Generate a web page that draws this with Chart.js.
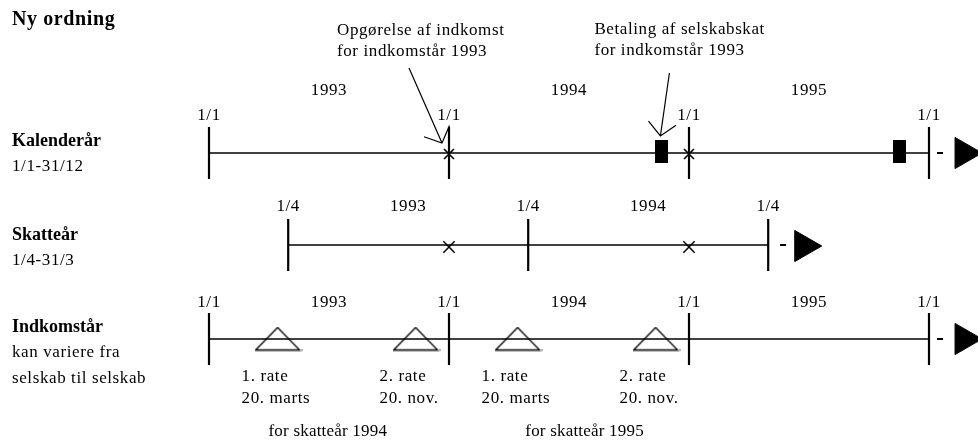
<!DOCTYPE html>
<html lang="da">
<head>
<meta charset="UTF-8">
<title>Ny ordning</title>
<style>
  body { margin: 0; background: #fff; }
  #wrap { width: 978px; height: 442px; }
</style>
</head>
<body>
<div id="wrap"><canvas id="timeline" width="978" height="442"></canvas></div>
<script src="https://cdn.jsdelivr.net/npm/chart.js"></script>
<script>
// ---- data (x values in years) ----
const calendarBounds = [1993, 1994, 1995, 1996];
const calendarBoundLabels = ['1/1', '1/1', '1/1', '1/1'];
const calendarYears = ['1993', '1994', '1995'];
const calendarYearPos = [1993.5, 1994.5, 1995.5];
const assessmentDates = [1994.0, 1995.0];
const paymentDates = [1994.885, 1995.877];

const taxBounds = [1993.33, 1994.33, 1995.33];
const taxBoundLabels = ['1/4', '1/4', '1/4'];
const taxYears = ['1993', '1994'];
const taxYearPos = [1993.83, 1994.83];
const taxMarks = [1994.0, 1995.0];

const incomeBounds = [1993, 1994, 1995, 1996];
const incomeBoundLabels = ['1/1', '1/1', '1/1', '1/1'];
const incomeYears = ['1993', '1994', '1995'];
const incomeYearPos = [1993.5, 1994.5, 1995.5];
const installments = [1993.29, 1993.865, 1994.29, 1994.865];
const installmentNo = ['1. rate', '2. rate', '1. rate', '2. rate'];
const installmentDay = ['20. marts', '20. nov.', '20. marts', '20. nov.'];
const forTaxYear = ['for skatteår 1994', 'for skatteår 1995'];
const forTaxYearPos = [1993.495, 1994.565];

const rowTitles = ['Kalenderår', 'Skatteår', 'Indkomstår'];
const rowSubtitles = [['1/1-31/12'], ['1/4-31/3'], ['kan variere fra', 'selskab til selskab']];
const noteAssessment = ['Opgørelse af indkomst', 'for indkomstår 1993'];
const notePayment = ['Betaling af selskabskat', 'for indkomstår 1993'];

// ---- layout (vertical units of the y scale, 0 = top) ----
const rowY = [153, 245, 339];
const tickHalf = 26;
const calendarEnd = { dash: 1996.046, arrow: 1996.146 };
const taxEnd = { dash: 1995.392, arrow: 1995.478 };

const SERIF = "'Liberation Serif', 'Times New Roman', serif";

function tickSegments(xs, y) {
  const pts = [];
  xs.forEach(x => {
    pts.push({ x: x, y: y - tickHalf }, { x: x, y: y + tickHalf }, { x: x, y: null });
  });
  return pts;
}

function makeBlock(w, h) {
  const c = document.createElement('canvas');
  c.width = w; c.height = h;
  const g = c.getContext('2d');
  g.fillStyle = '#000';
  g.fillRect(0, 0, w, h);
  return c;
}

function makeOpenTriangle(w, h) {
  const c = document.createElement('canvas');
  c.width = w + 4; c.height = h + 2;
  const g = c.getContext('2d');
  g.strokeStyle = '#000';
  g.lineWidth = 1.3;
  g.beginPath();
  g.moveTo(1, h + 0.5);
  g.lineTo(w / 2 + 1, 1);
  g.lineTo(w + 1, h + 0.5);
  g.closePath();
  g.stroke();
  g.strokeStyle = '#888';
  g.beginPath();
  g.moveTo(w + 1, h + 0.5);
  g.lineTo(w + 4, h + 0.5);
  g.stroke();
  return c;
}

const blockStyle = makeBlock(13, 23);
const triStyle = makeOpenTriangle(44, 23);

const lineDefaults = { showLine: true, pointRadius: 0, borderColor: '#000', spanGaps: false, clip: false };

const datasets = [
  // main time lines
  Object.assign({ data: [{ x: calendarBounds[0], y: rowY[0] }, { x: calendarBounds[3], y: rowY[0] }], borderWidth: 1.4 }, lineDefaults),
  Object.assign({ data: [{ x: taxBounds[0], y: rowY[1] }, { x: taxBounds[2], y: rowY[1] }], borderWidth: 1.4 }, lineDefaults),
  Object.assign({ data: [{ x: incomeBounds[0], y: rowY[2] }, { x: incomeBounds[3], y: rowY[2] }], borderWidth: 1.4 }, lineDefaults),
  // year boundary ticks
  Object.assign({ data: tickSegments(calendarBounds, rowY[0]), borderWidth: 2.2 }, lineDefaults),
  Object.assign({ data: tickSegments(taxBounds, rowY[1]), borderWidth: 2.2 }, lineDefaults),
  Object.assign({ data: tickSegments(incomeBounds, rowY[2]), borderWidth: 2.2 }, lineDefaults),
  // continuation dash + arrow heads
  {
    data: [{ x: calendarEnd.dash, y: rowY[0] }, { x: taxEnd.dash, y: rowY[1] }, { x: calendarEnd.dash, y: rowY[2] }],
    pointStyle: 'line', pointRadius: 3, borderWidth: 2, borderColor: '#000', showLine: false, clip: false
  },
  {
    data: [{ x: calendarEnd.arrow, y: rowY[0] }, { x: taxEnd.arrow, y: rowY[1] + 1 }, { x: calendarEnd.arrow, y: rowY[2] }],
    pointStyle: 'triangle', rotation: 90, pointRadius: 18, backgroundColor: '#000', borderColor: '#000',
    borderWidth: 1, showLine: false, clip: false
  },
  // assessment crosses on calendar line
  {
    data: assessmentDates.map(x => ({ x: x, y: rowY[0] + 1 })),
    pointStyle: 'crossRot', pointRadius: 7, borderWidth: 1.6, borderColor: '#000', showLine: false, clip: false
  },
  // tax year marks
  {
    data: taxMarks.map(x => ({ x: x, y: rowY[1] + 2 })),
    pointStyle: 'crossRot', pointRadius: 8, borderWidth: 1.5, borderColor: '#000', showLine: false, clip: false
  },
  // payment blocks
  {
    data: paymentDates.map(x => ({ x: x, y: rowY[0] - 2 })),
    pointStyle: blockStyle, pointRadius: 10, showLine: false, clip: false
  },
  // installments
  {
    data: installments.map(x => ({ x: x, y: rowY[2] })),
    pointStyle: triStyle, pointRadius: 10, showLine: false, clip: false
  }
];

const textPlugin = {
  id: 'diagramText',
  afterDatasetsDraw(chart) {
    const ctx = chart.ctx;
    const xs = chart.scales.x, ys = chart.scales.y;
    const put = (txt, px, py, align, font, spacing) => {
      ctx.font = font || ('17px ' + SERIF);
      ctx.letterSpacing = spacing || '0.6px';
      ctx.textAlign = align || 'center';
      ctx.textBaseline = 'middle';
      ctx.fillText(txt, px, py);
    };
    ctx.save();
    ctx.fillStyle = '#000';

    // title + row captions
    put('Ny ordning', 12, 20, 'left', 'bold 20px ' + SERIF);
    const titleY = [141, 235, 327];
    rowTitles.forEach((t, i) => {
      put(t, 12, ys.getPixelForValue(titleY[i]), 'left', 'bold 18px ' + SERIF, '0px');
      rowSubtitles[i].forEach((s, j) => put(s, 12, ys.getPixelForValue(titleY[i] + 26 + j * 26), 'left'));
    });

    // calendar row
    calendarYears.forEach((t, i) => put(t, xs.getPixelForValue(calendarYearPos[i]), ys.getPixelForValue(91)));
    calendarBounds.forEach((v, i) => put(calendarBoundLabels[i], xs.getPixelForValue(v), ys.getPixelForValue(116)));

    // tax row
    taxYears.forEach((t, i) => put(t, xs.getPixelForValue(taxYearPos[i]), ys.getPixelForValue(207)));
    taxBounds.forEach((v, i) => put(taxBoundLabels[i], xs.getPixelForValue(v), ys.getPixelForValue(207)));

    // income row
    incomeYears.forEach((t, i) => put(t, xs.getPixelForValue(incomeYearPos[i]), ys.getPixelForValue(303)));
    incomeBounds.forEach((v, i) => put(incomeBoundLabels[i], xs.getPixelForValue(v), ys.getPixelForValue(303)));
    installments.forEach((v, i) => {
      const px = xs.getPixelForValue(v) - 37;
      put(installmentNo[i], px, ys.getPixelForValue(377), 'left');
      put(installmentDay[i], px, ys.getPixelForValue(399), 'left');
    });
    forTaxYear.forEach((t, i) => put(t, xs.getPixelForValue(forTaxYearPos[i]), ys.getPixelForValue(432), 'center', null, '0.2px'));

    // notes with arrows
    const noteX1 = xs.getPixelForValue(assessmentDates[0]) - 112;
    const noteX2 = xs.getPixelForValue(paymentDates[0]) - 67;
    noteAssessment.forEach((t, j) => put(t, noteX1, ys.getPixelForValue(31 + j * 21), 'left'));
    notePayment.forEach((t, j) => put(t, noteX2, ys.getPixelForValue(30 + j * 21), 'left'));

    const arrow = (x0, y0, x1, y1) => {
      ctx.strokeStyle = '#000';
      ctx.lineWidth = 1.2;
      ctx.beginPath();
      ctx.moveTo(x0, y0); ctx.lineTo(x1, y1);
      const back = Math.atan2(y0 - y1, x0 - x1);
      const spread = 47 * Math.PI / 180, len = 19;
      ctx.moveTo(x1 + Math.cos(back - spread) * len, y1 + Math.sin(back - spread) * len);
      ctx.lineTo(x1, y1);
      ctx.lineTo(x1 + Math.cos(back + spread) * len, y1 + Math.sin(back + spread) * len);
      ctx.stroke();
    };
    const ax = xs.getPixelForValue(assessmentDates[0]);
    arrow(ax - 40, ys.getPixelForValue(68), ax - 7, ys.getPixelForValue(rowY[0] - 10));
    const bx = xs.getPixelForValue(paymentDates[0]);
    arrow(bx + 8, ys.getPixelForValue(73), bx - 1, ys.getPixelForValue(rowY[0] - 17));
    ctx.restore();
  }
};

new Chart(document.getElementById('timeline').getContext('2d'), {
  type: 'scatter',
  data: { datasets: datasets },
  options: {
    responsive: false,
    animation: false,
    events: [],
    layout: { padding: 0, autoPadding: false },
    plugins: { legend: { display: false }, tooltip: { enabled: false } },
    scales: {
      x: { type: 'linear', min: 1993 - 209 / 240, max: 1993 + 769 / 240, display: false },
      y: { type: 'linear', min: 0, max: 442, reverse: true, display: false }
    }
  },
  plugins: [textPlugin]
});
</script>
</body>
</html>
